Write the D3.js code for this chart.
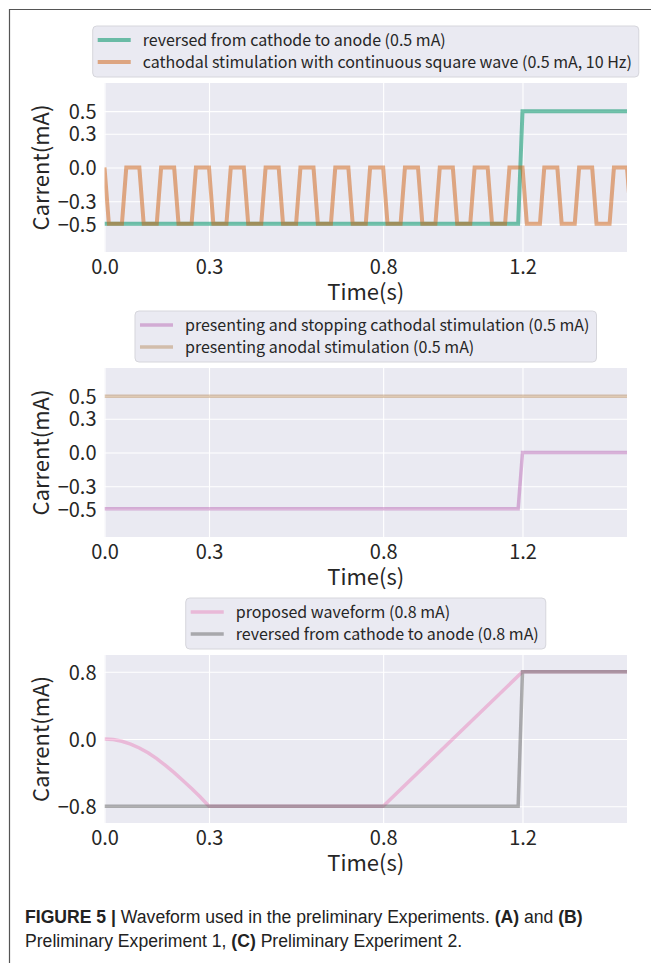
<!DOCTYPE html>
<html>
<head>
<meta charset="utf-8">
<script src="https://cdn.jsdelivr.net/npm/d3@7"></script>
<style>
  body { margin: 0; background: #fff; }
  svg { display: block; }
  .tick-label { font-family: "Noto Sans CJK JP", "Noto Sans", sans-serif; font-size: 20px; fill: #262626; }
  .axis-title { font-family: "Noto Sans CJK JP", "Noto Sans", sans-serif; font-size: 22px; fill: #262626; }
  .legend-text { font-family: "Noto Sans CJK JP", "Noto Sans", sans-serif; font-size: 16px; fill: #262626; }
  .caption { font-family: "Liberation Sans", Arial, sans-serif; font-size: 17.6px; fill: #222; }
</style>
</head>
<body>
<svg id="chart" width="651" height="963"></svg>
<script>
// x axis (seconds)
const timeDomain = [0, 1.5];
const timeTicks = [0.0, 0.3, 0.8, 1.2];

// y ticks per panel
const yTicksA = [-0.5, -0.3, 0.0, 0.3, 0.5];
const yTicksB = [-0.5, -0.3, 0.0, 0.3, 0.5];
const yTicksC = [-0.8, 0.0, 0.8];

// (A) reversed from cathode to anode, 0.5 mA
const reversedA = [[0, -0.5], [1.1875, -0.5], [1.2, 0.5], [1.5, 0.5]];

// (A) cathodal square wave, 0.5 mA, 10 Hz (corner points)
const squareWaveA = [
  [0, 0],
  [0.0125, -0.5], [0.05, -0.5], [0.0625, 0], [0.1, 0],
  [0.1125, -0.5], [0.15, -0.5], [0.1625, 0], [0.2, 0],
  [0.2125, -0.5], [0.25, -0.5], [0.2625, 0], [0.3, 0],
  [0.3125, -0.5], [0.35, -0.5], [0.3625, 0], [0.4, 0],
  [0.4125, -0.5], [0.45, -0.5], [0.4625, 0], [0.5, 0],
  [0.5125, -0.5], [0.55, -0.5], [0.5625, 0], [0.6, 0],
  [0.6125, -0.5], [0.65, -0.5], [0.6625, 0], [0.7, 0],
  [0.7125, -0.5], [0.75, -0.5], [0.7625, 0], [0.8, 0],
  [0.8125, -0.5], [0.85, -0.5], [0.8625, 0], [0.9, 0],
  [0.9125, -0.5], [0.95, -0.5], [0.9625, 0], [1.0, 0],
  [1.0125, -0.5], [1.05, -0.5], [1.0625, 0], [1.1, 0],
  [1.1125, -0.5], [1.15, -0.5], [1.1625, 0], [1.2, 0],
  [1.2125, -0.5], [1.25, -0.5], [1.2625, 0], [1.3, 0],
  [1.3125, -0.5], [1.35, -0.5], [1.3625, 0], [1.4, 0],
  [1.4125, -0.5], [1.45, -0.5], [1.4625, 0], [1.5, 0],
  [1.5125, -0.5]
];

// (B)
const cathodalStopB = [[0, -0.5], [1.1875, -0.5], [1.2, 0], [1.5, 0]];
const anodalB = [[0, 0.5], [1.5, 0.5]];

// (C)
const proposedC = [
  [0, 0], [0.025, -0.007], [0.05, -0.027], [0.075, -0.06], [0.1, -0.107],
  [0.125, -0.164], [0.15, -0.234], [0.175, -0.315], [0.2, -0.4],
  [0.225, -0.494], [0.25, -0.59], [0.275, -0.69], [0.3, -0.8],
  [0.8, -0.8], [1.2, 0.8], [1.5, 0.8]
];
const reversedC = [[0, -0.8], [1.1875, -0.8], [1.2, 0.8], [1.5, 0.8]];

const panels = [
  {
    top: 83, height: 169, yDomain: [-0.75, 0.75], yTicks: yTicksA, legendTop: 26,
    series: [
      { data: reversedA, color: '#1b9e77', opacity: 0.62, width: 4, label: 'reversed from cathode to anode (0.5 mA)' },
      { data: squareWaveA, color: '#d06010', opacity: 0.5, width: 4, label: 'cathodal stimulation with continuous square wave (0.5 mA, 10 Hz)' }
    ]
  },
  {
    top: 368, height: 169, yDomain: [-0.75, 0.75], yTicks: yTicksB, legendTop: 311,
    series: [
      { data: cathodalStopB, color: '#b55fb0', opacity: 0.45, width: 3.5, label: 'presenting and stopping cathodal stimulation (0.5 mA)' },
      { data: anodalB, color: '#b07a40', opacity: 0.4, width: 3.5, label: 'presenting anodal stimulation (0.5 mA)' }
    ]
  },
  {
    top: 655, height: 168, yDomain: [-1, 1], yTicks: yTicksC, legendTop: 598,
    series: [
      { data: proposedC, color: '#e7298a', opacity: 0.25, width: 3.5, label: 'proposed waveform (0.8 mA)' },
      { data: reversedC, color: '#666666', opacity: 0.5, width: 3.5, label: 'reversed from cathode to anode (0.8 mA)' }
    ]
  }
];

const svg = d3.select('#chart');
const left = 104.5, right = 627;
const x = d3.scaleLinear().domain(timeDomain).range([left, right]);
const fmt = d3.format('.1f');

// page frame
svg.append('line').attr('x1', 9).attr('x2', 651).attr('y1', 9.5).attr('y2', 9.5).attr('stroke', '#555').attr('stroke-width', 1.2);
svg.append('line').attr('x1', 9.5).attr('x2', 9.5).attr('y1', 9).attr('y2', 963).attr('stroke', '#555').attr('stroke-width', 1.2);

panels.forEach((p, i) => {
  const y = d3.scaleLinear().domain(p.yDomain).range([p.top + p.height, p.top]);
  const g = svg.append('g').attr('class', 'panel');

  g.append('rect')
    .attr('x', left).attr('y', p.top)
    .attr('width', right - left).attr('height', p.height)
    .attr('fill', '#eaeaf2');

  // grid + labels via axes
  const xAxis = g.append('g')
    .attr('transform', `translate(0,${p.top + p.height})`)
    .call(d3.axisBottom(x).tickValues(timeTicks).tickFormat(fmt).tickSize(-p.height).tickPadding(8));
  xAxis.select('.domain').remove();
  xAxis.selectAll('.tick line').attr('stroke', '#fff').attr('stroke-width', 1.1);
  xAxis.selectAll('.tick text').attr('class', 'tick-label').attr('fill', null).attr('dy', '0.7em');

  const yAxis = g.append('g')
    .attr('transform', `translate(${left},0)`)
    .call(d3.axisLeft(y).tickValues(p.yTicks).tickFormat(fmt).tickSize(-(right - left)).tickPadding(8));
  yAxis.select('.domain').remove();
  yAxis.selectAll('.tick line').attr('stroke', '#fff').attr('stroke-width', 1.1);
  yAxis.selectAll('.tick text').attr('class', 'tick-label').attr('fill', null).attr('dy', '0.36em');

  g.append('text').attr('class', 'axis-title')
    .attr('x', (left + right) / 2).attr('y', p.top + p.height + 48)
    .attr('text-anchor', 'middle').text('Time(s)');
  g.append('text').attr('class', 'axis-title')
    .attr('transform', `translate(49,${p.top + p.height / 2}) rotate(-90)`)
    .attr('text-anchor', 'middle').text('Carrent(mA)');

  const clipId = 'clip-' + i;
  svg.append('clipPath').attr('id', clipId)
    .append('rect').attr('x', left).attr('y', p.top - 5).attr('width', right - left).attr('height', p.height + 10);

  const line = d3.line().x(d => x(d[0])).y(d => y(d[1]));
  g.append('g').attr('clip-path', `url(#${clipId})`)
    .selectAll('path')
    .data(p.series)
    .join('path')
    .attr('d', d => line(d.data))
    .attr('fill', 'none')
    .attr('stroke', d => d.color)
    .attr('stroke-opacity', d => d.opacity)
    .attr('stroke-width', d => d.width)
    .attr('stroke-linejoin', 'miter');

  // legend, centred above the plot
  const lg = g.append('g');
  const box = lg.append('rect');
  const rows = lg.selectAll('g.row').data(p.series).join('g').attr('class', 'row')
    .attr('transform', (d, k) => `translate(0,${p.legendTop + 14 + k * 22})`);
  rows.append('line')
    .attr('x1', 5).attr('x2', 38)
    .attr('stroke', d => d.color).attr('stroke-opacity', d => d.opacity)
    .attr('stroke-width', d => d.width);
  const texts = rows.append('text').attr('class', 'legend-text')
    .attr('x', 50).attr('dy', '0.35em').text(d => d.label);
  let maxW = 0;
  texts.each(function () { maxW = Math.max(maxW, this.getComputedTextLength()); });
  const w = 50 + maxW + 7;
  const lx = (left + right) / 2 - w / 2;
  lg.attr('transform', `translate(${lx},0)`);
  box.attr('x', 0).attr('y', p.legendTop).attr('width', w).attr('height', 51)
    .attr('rx', 4).attr('fill', '#eaeaf2').attr('stroke', '#d6d6dc');
});

// caption
const cap = svg.append('text').attr('class', 'caption').attr('x', 25).attr('y', 923);
cap.append('tspan').attr('font-weight', 'bold').text('FIGURE 5 | ');
cap.append('tspan').text('Waveform used in the preliminary Experiments. ');
cap.append('tspan').attr('font-weight', 'bold').text('(A)');
cap.append('tspan').text(' and ');
cap.append('tspan').attr('font-weight', 'bold').text('(B)');
const cap2 = svg.append('text').attr('class', 'caption').attr('x', 25).attr('y', 947);
cap2.append('tspan').text('Preliminary Experiment 1, ');
cap2.append('tspan').attr('font-weight', 'bold').text('(C)');
cap2.append('tspan').text(' Preliminary Experiment 2.');
</script>
</body>
</html>
